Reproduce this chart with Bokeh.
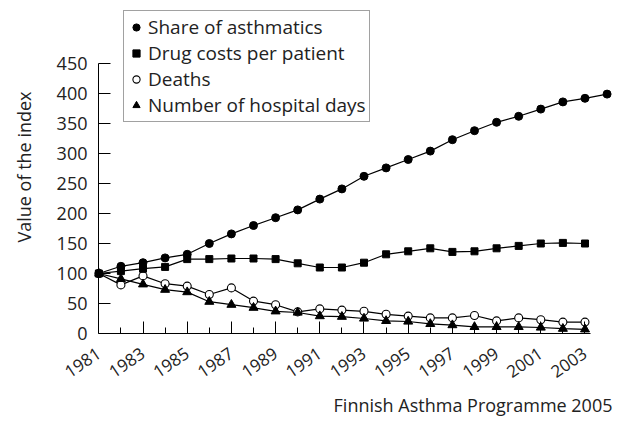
from bokeh.plotting import figure
from bokeh.models import FixedTicker, Legend, LegendItem, Range1d, LinearAxis, Title
from bokeh.embed import file_html
from bokeh.resources import INLINE

years_all = list(range(1981, 2005))
years = list(range(1981, 2004))
share = [100, 112, 118, 126, 132, 150, 166, 180, 193, 206, 224, 241, 262, 276,
         290, 304, 323, 338, 352, 362, 374, 386, 392, 399]
drug = [100, 104, 108, 111, 124, 124, 125, 125, 124, 117, 110, 110, 118, 132,
        137, 142, 136, 137, 142, 146, 150, 151, 150]
deaths = [100, 81, 96, 83, 79, 65, 76, 54, 48, 36, 41, 39, 37, 32, 29, 26, 26,
          30, 21, 26, 23, 19, 19]
hospital = [100, 91, 82, 73, 69, 53, 48, 43, 37, 35, 29, 28, 25, 21, 20, 16,
            14, 11, 11, 11, 10, 8, 7]
x_major = list(range(1981, 2004, 2))
x_minor = list(range(1982, 2003, 2))
y_ticks = list(range(0, 451, 50))

FONT = "Open Sans"
FS = "18px"
TXT = "#222222"

p = figure(width=619, height=421, output_backend="svg", toolbar_location=None,
           x_range=Range1d(1980.805, 2004.245), y_range=Range1d(0, 555),
           min_border_left=94, min_border_right=7, min_border_top=0,
           min_border_bottom=88)
p.outline_line_color = None
p.xgrid.visible = False
p.ygrid.visible = False

for ys, xs in [(deaths, years), (hospital, years), (drug, years), (share, years_all)]:
    p.line(xs, ys, line_color="black", line_width=1.2)

r_deaths = p.scatter(years, deaths, marker="circle", size=8, fill_color="white",
                     line_color="black", line_width=1.1)
r_hosp = p.scatter(years, hospital, marker="triangle", size=9, fill_color="black",
                   line_color="black")
r_drug = p.scatter(years, drug, marker="square", size=7, fill_color="black",
                   line_color="black")
r_share = p.scatter(years_all, share, marker="circle", size=8, fill_color="black",
                    line_color="black")

# x axis
xa = p.xaxis[0]
xa.ticker = FixedTicker(ticks=x_major, minor_ticks=x_minor)
xa.bounds = (1981, 2003.25)
xa.major_tick_in = 12
xa.major_tick_out = 0
xa.minor_tick_in = 6
xa.minor_tick_out = 0
xa.major_label_orientation = 0.6
xa.major_label_standoff = 18
xa.major_label_text_font = FONT
xa.major_label_text_font_size = "17px"
xa.major_label_text_color = TXT
xa.axis_line_color = "black"

# y axis: labels only (at frame edge)
ya = p.yaxis[0]
ya.ticker = FixedTicker(ticks=y_ticks)
ya.axis_line_color = None
ya.major_tick_line_color = None
ya.minor_tick_line_color = None
ya.major_label_standoff = 1
ya.major_label_text_font = FONT
ya.major_label_text_font_size = FS
ya.major_label_text_color = TXT
ya.axis_label = "Value of the index"
ya.axis_label_text_font = FONT
ya.axis_label_text_font_size = FS
ya.axis_label_text_font_style = "normal"
ya.axis_label_text_color = TXT
ya.axis_label_standoff = 18

# y axis line and ticks at 1981
yline = LinearAxis(ticker=FixedTicker(ticks=y_ticks), fixed_location=1981,
                   bounds=(0, 450), major_tick_in=12, major_tick_out=0,
                   minor_tick_line_color=None, major_label_standoff=0,
                   major_label_overrides={t: "" for t in y_ticks},
                   axis_line_color="black", major_tick_line_color="black")
p.add_layout(yline, "left")

legend = Legend(items=[
    LegendItem(label="Share of asthmatics", renderers=[r_share]),
    LegendItem(label="Drug costs per patient", renderers=[r_drug]),
    LegendItem(label="Deaths", renderers=[r_deaths]),
    LegendItem(label="Number of hospital days", renderers=[r_hosp]),
], location=(29, 211))
legend.margin = 0
legend.padding = 3
legend.spacing = 0
legend.glyph_width = 18
legend.glyph_height = 26
legend.label_height = 26
legend.label_standoff = 3
legend.label_text_font = FONT
legend.label_text_font_size = "19px"
legend.label_text_color = TXT
legend.label_text_baseline = "middle"
legend.border_line_color = "#444444"
legend.border_line_width = 1
legend.background_fill_color = "white"
legend.background_fill_alpha = 1
p.add_layout(legend)

footer = Title(text="Finnish Asthma Programme 2005", align="right",
               text_font=FONT, text_font_size=FS, text_font_style="normal",
               text_color=TXT, standoff=8)
p.add_layout(footer, "below")

open("out.html", "w").write(file_html(p, INLINE))
